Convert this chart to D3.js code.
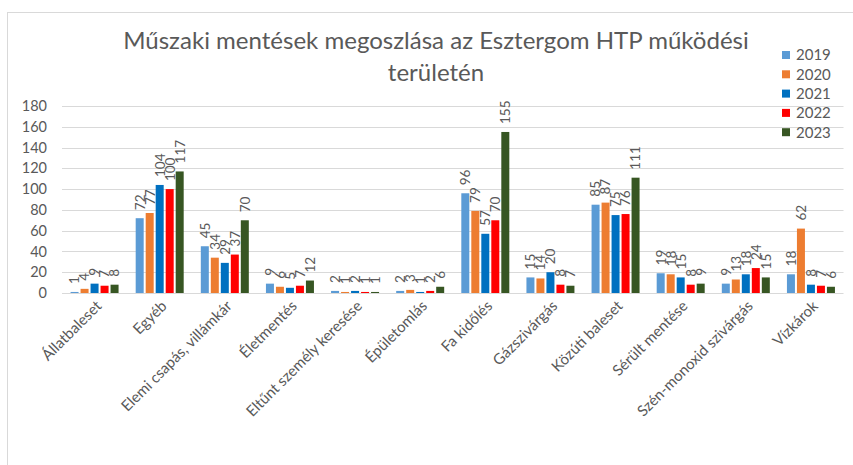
<!DOCTYPE html>
<html><head><meta charset="utf-8">
<script src="https://cdn.jsdelivr.net/npm/d3@7"></script>
<style>
html,body{margin:0;padding:0;background:#fff;}
svg{display:block;font-family:Lato,"Open Sans",sans-serif;}
</style></head>
<body><svg id="chart" width="853" height="465"></svg>
<script>
const categories = ["Állatbaleset","Egyéb","Elemi csapás, villámkár","Életmentés","Eltűnt személy keresése","Épületomlás","Fa kidőlés","Gázszivárgás","Közúti baleset","Sérült mentése","Szén-monoxid szivárgás","Vízkárok"];
const years = ["2019","2020","2021","2022","2023"];
const v2019 = [1,72,45,9,2,2,96,15,85,19,9,18];
const v2020 = [4,77,34,6,1,3,79,14,87,18,13,62];
const v2021 = [9,104,29,5,2,1,57,20,75,15,18,8];
const v2022 = [7,100,37,7,1,2,70,8,76,8,24,7];
const v2023 = [8,117,70,12,1,6,155,7,111,9,15,6];
const yTicks = [0,20,40,60,80,100,120,140,160,180];
const colors = ["#5B9BD5","#ED7D31","#0070C0","#FF0000","#375623"];
const titleLines = ["Műszaki mentések megoszlása az Esztergom HTP működési","területén"];

const seriesValues = [v2019,v2020,v2021,v2022,v2023];
const svg = d3.select("#chart");
const textColor = "#595959";

// chart border
svg.append("rect").attr("x",7.5).attr("y",12.5).attr("width",1000).attr("height",1000)
  .attr("fill","none").attr("stroke","#D9D9D9").attr("stroke-width",1);

const x0 = d3.scaleBand().domain(categories).range([62,843.5]);
const groupW = 48;
const x1 = d3.scaleBand().domain(years).range([0,groupW]).paddingInner(0.2);
const y = d3.scaleLinear().domain([0,180]).range([293,106]);

// gridlines
svg.append("g").selectAll("line").data(yTicks).join("line")
  .attr("x1",62).attr("x2",843.5)
  .attr("y1",d=>Math.round(y(d))+0.5).attr("y2",d=>Math.round(y(d))+0.5)
  .attr("stroke","#D9D9D9").attr("stroke-width",1);

// y axis labels
const yAxis = d3.axisLeft(y).tickValues(yTicks).tickSize(0).tickPadding(0);
const gy = svg.append("g").attr("transform","translate(47,0)").call(yAxis);
gy.select(".domain").remove();
gy.selectAll("text").attr("fill",textColor).style("font-size","14.5px").style("font-family","Lato");

// bars
const groups = svg.append("g").selectAll("g").data(categories).join("g")
  .attr("transform",c=>`translate(${x0(c)+(x0.bandwidth()-groupW)/2},0)`);
groups.selectAll("rect").data((c,i)=>years.map((yr,j)=>({yr,j,v:seriesValues[j][i]})))
  .join("rect")
  .attr("x",d=>x1(d.yr)).attr("width",x1.bandwidth())
  .attr("y",d=>y(d.v)).attr("height",d=>y(0)-y(d.v))
  .attr("fill",d=>colors[d.j]);

// data labels
groups.selectAll("text").data((c,i)=>years.map((yr,j)=>({yr,j,v:seriesValues[j][i]})))
  .join("text")
  .attr("transform",d=>`translate(${x1(d.yr)+x1.bandwidth()/2},${y(d.v)-8}) rotate(-90)`)
  .attr("dy","0.36em")
  .attr("text-anchor","start")
  .attr("fill",textColor)
  .style("font-size","13.5px")
  .text(d=>d.v);

// x labels
svg.append("g").selectAll("text").data(categories).join("text")
  .attr("transform",c=>`translate(${x0(c)+x0.bandwidth()/2+8},${307}) rotate(-45)`)
  .attr("text-anchor","end")
  .attr("fill",textColor)
  .style("font-size","15px")
  .text(c=>c);

// title
const t1 = svg.append("text").attr("x",436).attr("y",49).attr("text-anchor","middle")
  .attr("fill",textColor).style("font-size","24px").text(titleLines[0]);
const w = t1.node().getComputedTextLength();
const fs = 24*626/w;
t1.style("font-size",fs+"px");
svg.append("text").attr("x",436).attr("y",81).attr("text-anchor","middle")
  .attr("fill",textColor).style("font-size",fs+"px").text(titleLines[1]);

// legend
const lg = svg.append("g").selectAll("g").data(years).join("g")
  .attr("transform",(d,i)=>`translate(782,${55+i*19.3})`);
lg.append("rect").attr("x",0).attr("y",-4).attr("width",8).attr("height",8)
  .attr("fill",(d,i)=>colors[i]);
lg.append("text").attr("x",14).attr("dy","0.36em").attr("fill",textColor)
  .style("font-size","15px").text(d=>d);
</script></body></html>
